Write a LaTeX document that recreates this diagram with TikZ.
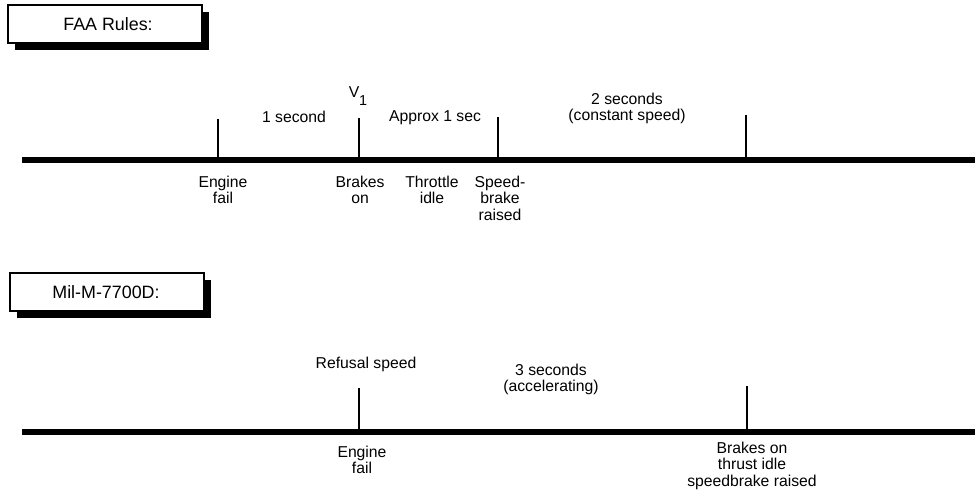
\documentclass[tikz,border=0pt]{standalone}
\usepackage{fontspec}
\setmainfont{Liberation Sans}
\usetikzlibrary{shadows}
\begin{document}
\begin{tikzpicture}[x=0.75pt,y=-0.75pt,
  every node/.style={font=\fontsize{11.8}{12.2}\selectfont, inner sep=0pt},
  titlebox/.style={draw=black, line width=1.1pt, fill=white, minimum width=145.5pt, minimum height=28.5pt,
    drop shadow={fill=black, opacity=1, shadow xshift=5.5pt, shadow yshift=-5.5pt}},
  titletext/.style={anchor=base, font=\fontsize{13.4}{14}\selectfont},
  axis/.style={line width=3.8pt},
  tick/.style={line width=2.2pt},
  lbl/.style={align=center, anchor=north},
  toplbl/.style={align=center, anchor=base}]
\useasboundingbox (0,0) rectangle (975,498);

% FAA
\node[titlebox] (faa) at (105,24) {};
\node[titletext] (faat) at (108,31) {FAA Rules:};
\coordinate (a0) at (22,160);
\coordinate (a1) at (975,160);
\draw[axis] (a0) -- (a1);
\coordinate (t1) at (218,160); \coordinate (t1e) at (218,119);
\coordinate (t2) at (359,160); \coordinate (t2e) at (359,118);
\coordinate (t3) at (498,160); \coordinate (t3e) at (498,117);
\coordinate (t4) at (746,160); \coordinate (t4e) at (746,115);
\draw[tick] (t1) -- (t1e);
\draw[tick] (t2) -- (t2e);
\draw[tick] (t3) -- (t3e);
\draw[tick] (t4) -- (t4e);
\node[toplbl] (onesec) at (294,123) {1 second};
\node[toplbl] (v1) at (358,98) {V\raisebox{-6pt}{\fontsize{10.8}{11}\selectfont 1}};
\node[toplbl] (approx) at (435,122) {Approx 1 sec};
\node[toplbl] (twosec) at (627,121) {2 seconds\\(constant speed)};
\node[lbl] (ef1) at (223,176) {Engine\\fail};
\node[lbl] (bo) at (360,176) {Brakes\\on};
\node[lbl] (ti) at (432,176) {Throttle\\idle};
\node[lbl] (sb) at (500,176) {Speed-\\brake\\raised};

% Mil
\node[titlebox] (mil) at (107,292) {};
\node[titletext] (milt) at (106,299) {Mil-M-7700D:};
\coordinate (b0) at (22,432);
\coordinate (b1) at (975,432);
\draw[axis] (b0) -- (b1);
\coordinate (u1) at (359,432); \coordinate (u1e) at (359,388);
\coordinate (u2) at (747,432); \coordinate (u2e) at (747,386);
\draw[tick] (u1) -- (u1e);
\draw[tick] (u2) -- (u2e);
\node[toplbl] (ref) at (366,369) {Refusal speed};
\node[toplbl] (threesec) at (551,392) {3 seconds\\(accelerating)};
\node[lbl] (ef2) at (362,446) {Engine\\fail};
\node[lbl] (bts) at (752,442) {Brakes on\\thrust idle\\speedbrake raised};
\end{tikzpicture}
\end{document}
